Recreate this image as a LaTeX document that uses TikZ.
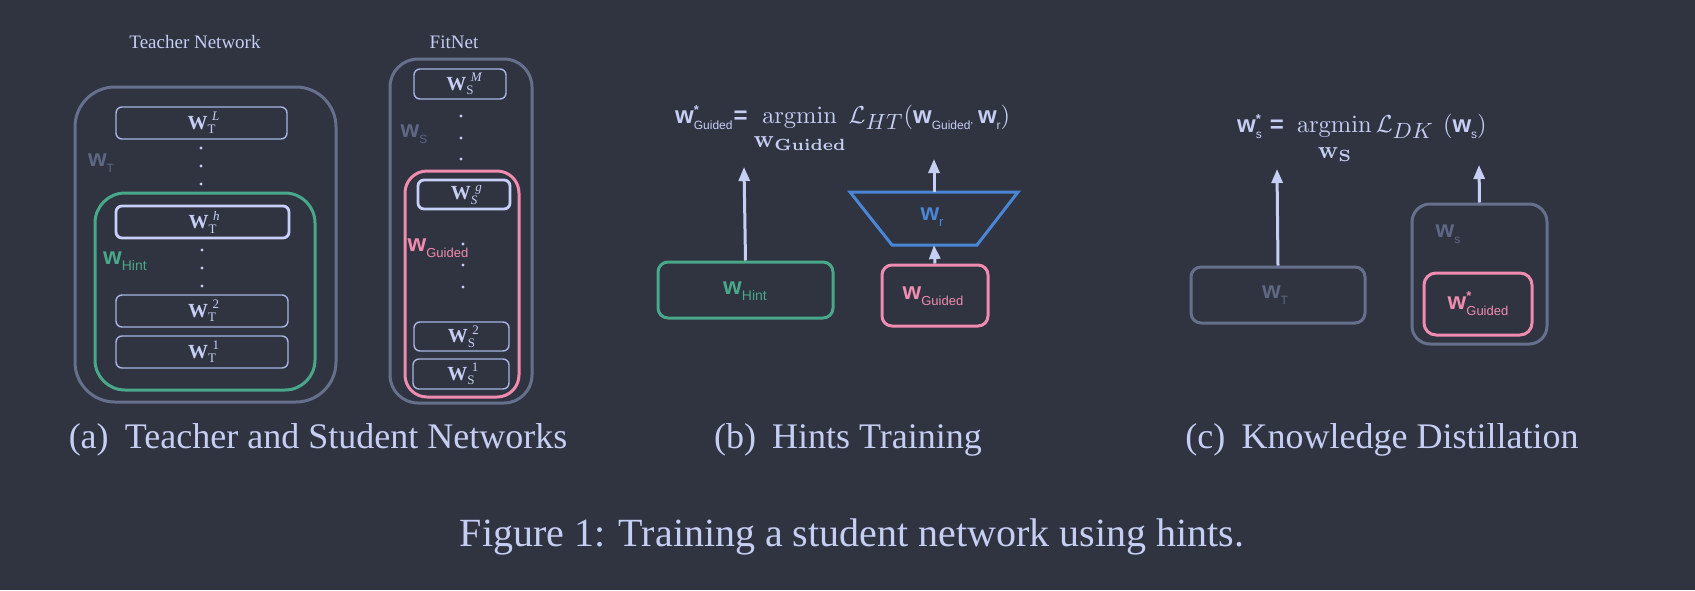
\RequirePackage{fix-cm}
\documentclass[tikz,border=0pt]{standalone}
\usepackage{amsmath}
\usepackage{graphicx}
\usepackage[no-math]{fontspec}
\setmainfont{Liberation Serif}
\newfontfamily\sansf{Liberation Sans}
\usetikzlibrary{arrows.meta}
\definecolor{bg}{HTML}{2F3440}
\definecolor{txt}{HTML}{C6CEF4}
\definecolor{boxline}{HTML}{A8B4E4}
\definecolor{hl}{HTML}{C8D0FA}
\definecolor{grayc}{HTML}{66708C}
\definecolor{graytxt}{HTML}{5E6884}
\definecolor{greenc}{HTML}{4AA88A}
\definecolor{pinkc}{HTML}{F08CB0}
\definecolor{bluec}{HTML}{4A86D6}
\newcommand\fs[1]{\fontsize{#1}{#1}\selectfont}
% sup, sub, raise, drop, sup shift
\newcommand\supsub[5]{\rlap{\hspace{#5}\raisebox{#3}{#1}}\raisebox{-#4}{#2}}
% layer label: sub, sup
\newcommand\lay[2]{{\fs{20}\bfseries W}\supsub{\fs{13}#2}{\fs{13}#1}{8.5pt}{4.5pt}{4.5pt}\hspace{3pt}}
% sans w with subscript: subsize, sub
\newcommand\sw[2]{{\fs{24}\sansf\bfseries w}\raisebox{-6.5pt}{\fs{#1}\sansf #2}}
\newcommand\swstar[2]{{\fs{24}\sansf\bfseries w}\supsub{\fs{13}\sansf\bfseries *}{\fs{#1}\sansf #2}{9pt}{6.5pt}{0pt}}
% argmin with under-limit: bold sub text, strut height
\newcommand\argminw[2]{\scalebox{2.45}{\fs{10}$\mathop{\mathrm{argmin}}\limits_{\hbox{\rule{0pt}{#2}\fs{10}$\mathbf{w}$\raisebox{-1.2pt}{\fs{6.6}$\mathbf{#1}$}}}$}}
\newcommand\bigL[1]{\scalebox{2.45}{\fs{10}$\mathcal{L}_{\hbox{\fs{9}$#1$}}$}}
\newcommand\bigpar[1]{\scalebox{2.45}{\fs{10}$#1$}}
\begin{document}
\begin{tikzpicture}[x=1pt,y=-1pt,
  thinbox/.style={draw=boxline,line width=1.4pt,rounded corners=6pt,inner sep=0pt,text=txt},
  hlbox/.style={draw=hl,line width=2.8pt,rounded corners=6pt,inner sep=0pt,text=txt},
  container/.style={line width=3pt,rounded corners=#1,inner sep=0pt},
  dotc/.style={circle,fill=txt,inner sep=0pt,minimum size=3.4pt},
  arr/.style={draw=txt,line width=3pt,-{Triangle[width=11pt,length=14pt]}},
  subcap/.style={text=txt,inner sep=0pt,font=\fs{36}},
  ttl/.style={text=txt,inner sep=0pt,font=\fs{19}},
  lbl/.style={inner sep=0pt,anchor=base}
]
\fill[bg] (0,0) rectangle (1695,590);
\useasboundingbox (0,0) rectangle (1695,590);

% ---------- (a) Teacher network ----------
\node[ttl] (tt) at (195,42) {Teacher Network};
\node[container=40pt,draw=grayc,minimum width=261,minimum height=315] (tout) at (205.5,244.5) {};
\node[lbl,text=graytxt] (wtlab) at (101,166) {\sw{12}{T}};
\node[thinbox,minimum width=171,minimum height=32] (tL) at (201.5,123) {\lay{T}{\itshape L}};
\node[dotc] (td1) at (201,148) {};
\node[dotc] (td2) at (201,166) {};
\node[dotc] (td3) at (201,184) {};
\node[container=30pt,draw=greenc,minimum width=220,minimum height=197] (thint) at (205,291.5) {};
\node[hlbox,minimum width=173,minimum height=32] (th) at (202.5,222) {\lay{T}{\itshape h}};
\node[dotc] (td4) at (202,250) {};
\node[dotc] (td5) at (202,268) {};
\node[dotc] (td6) at (202,286) {};
\node[lbl,text=greenc] (whlab) at (125,264) {\sw{14}{Hint}};
\node[thinbox,minimum width=172,minimum height=32] (t2) at (202,311) {\lay{T}{2}};
\node[thinbox,minimum width=172,minimum height=32] (t1) at (202,352) {\lay{T}{1}};

% ---------- (a) FitNet ----------
\node[ttl] (ft) at (454,42) {FitNet};
\node[container=28pt,draw=grayc,minimum width=142,minimum height=344] (fout) at (461,231) {};
\node[thinbox,minimum width=92,minimum height=30] (sM) at (460,84) {\lay{S}{\itshape M}};
\node[dotc] (sd1) at (461,116) {};
\node[dotc] (sd2) at (461,138) {};
\node[dotc] (sd3) at (461,159) {};
\node[lbl,text=graytxt] (wslab) at (414,137) {\sw{12}{S}};
\node[container=22pt,draw=pinkc,minimum width=114,minimum height=226] (sg) at (462,284) {};
\node[hlbox,minimum width=92,minimum height=29] (sgb) at (464,194.5) {\lay{\itshape S}{\itshape g}};
\node[lbl,text=pinkc] (wglab) at (438,251) {\sw{13}{Guided}};
\node[dotc] (sd4) at (463,244) {};
\node[dotc] (sd5) at (463,265) {};
\node[dotc] (sd6) at (463,287) {};
\node[thinbox,minimum width=95,minimum height=29] (s2) at (461.5,336.5) {\lay{S}{2}};
\node[thinbox,minimum width=96,minimum height=30] (s1) at (461,374) {\lay{S}{1}};

% ---------- (b) Hints training ----------
\node[inner sep=0pt,anchor=base west,text=txt] (eqb) at (675,123) {%
 \swstar{12}{Guided}\hspace{1pt}{\fs{24}\sansf\bfseries =}\hspace{6pt}%
 \argminw{Guided}{6.3pt}\hspace{3pt}%
 \bigL{HT}\bigpar{(}\sw{12}{Guided},\hspace{5pt}\sw{12}{r}\bigpar{)}};
\node[container=10pt,draw=greenc,minimum width=175,minimum height=56] (hint) at (745.5,290) {};
\node[lbl,text=greenc] (hintl) at (745,294) {\sw{14}{Hint}};
\coordinate (tipb1) at (744,167);
\draw[arr] (hint.north) -- (tipb1);
\draw[bluec,line width=3pt,line join=miter] (850,192) -- (1018,192) -- (977,245) -- (892,245) -- cycle;
\coordinate (trtop) at (934,192);
\coordinate (trbot) at (934,245);
\node[lbl,text=bluec] (wr) at (932,220) {\sw{13}{r}};
\node[container=10pt,draw=pinkc,minimum width=106,minimum height=61] (gd) at (935,295.5) {};
\node[lbl,text=pinkc] (gdl) at (933,299) {\sw{13}{Guided}};
\coordinate (tipb2) at (934,159);
\draw[arr] (gd.north) -- (trbot);
\draw[arr] (trtop) -- (tipb2);

% ---------- (c) Knowledge distillation ----------
\node[inner sep=0pt,anchor=base west,text=txt] (eqc) at (1237,132) {%
 \swstar{12}{s}\hspace{8pt}{\fs{24}\sansf\bfseries =}\hspace{13pt}%
 \argminw{S}{7.4pt}\hspace{4pt}%
 \bigL{DK}\hspace{9pt}\bigpar{(}\sw{12}{s}\bigpar{)}};
\node[container=10pt,draw=grayc,minimum width=174,minimum height=56] (wt) at (1278,295) {};
\node[lbl,text=graytxt] (wtl) at (1275,298) {\sw{12}{T}};
\coordinate (tipc1) at (1277,169);
\draw[arr] (wt.north) -- (tipc1);
\node[container=18pt,draw=grayc,minimum width=135,minimum height=140] (ws) at (1479.5,274) {};
\node[lbl,text=graytxt] (wsl) at (1448,237) {\sw{12}{s}};
\node[container=12pt,draw=pinkc,minimum width=108,minimum height=62] (gs) at (1478,304) {};
\node[lbl,text=pinkc] (gsl) at (1478,309) {\swstar{13}{Guided}};
\coordinate (tipc2) at (1479,165);
\draw[arr] (ws.north) -- (tipc2);

% ---------- captions ----------
\node[subcap] (capa) at (318,440) {(a)\hspace{0.45em}Teacher and Student Networks};
\node[subcap] (capb) at (848,440) {(b)\hspace{0.45em}Hints Training};
\node[subcap] (capc) at (1382,440) {(c)\hspace{0.45em}Knowledge Distillation};
\node[text=txt,inner sep=0pt,font=\fs{40}] (fig) at (852,537) {Figure 1: Training a student network using hints.};
\end{tikzpicture}
\end{document}
